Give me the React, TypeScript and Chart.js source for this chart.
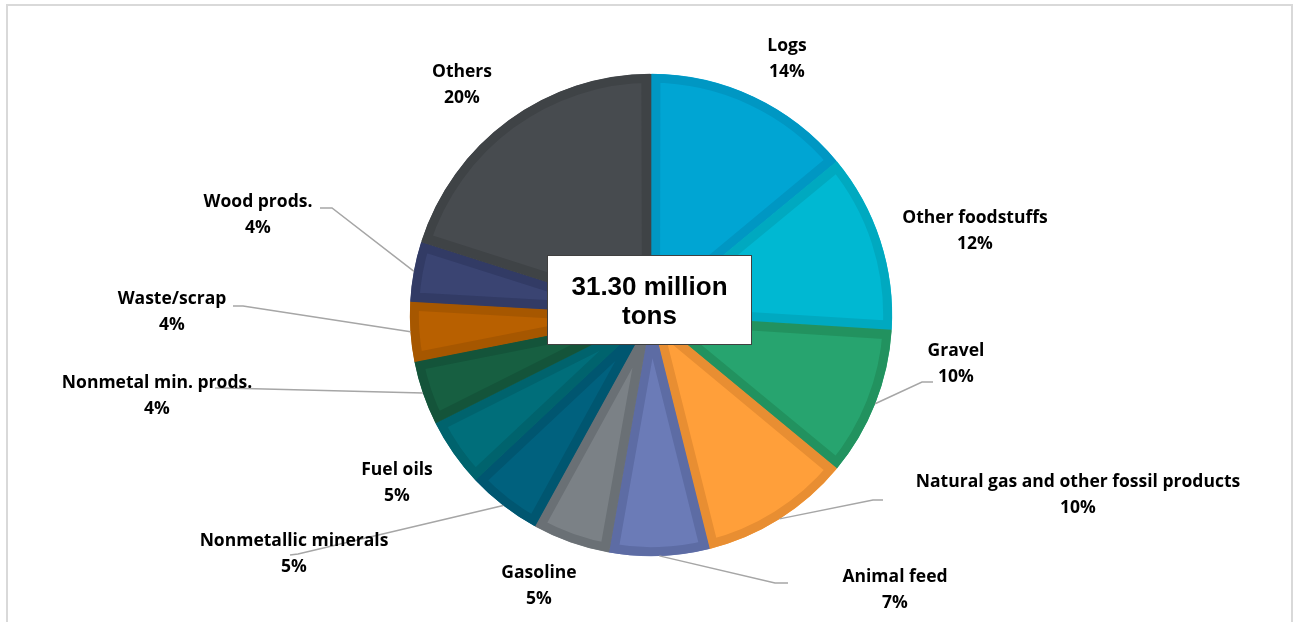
import React, { useEffect, useRef } from "react";
import { Chart, registerables } from "chart.js";

Chart.register(...registerables);

// ---------- data ----------
const categories = [
  "Logs",
  "Other foodstuffs",
  "Gravel",
  "Natural gas and other fossil products",
  "Animal feed",
  "Gasoline",
  "Nonmetallic minerals",
  "Fuel oils",
  "Nonmetal min. prods.",
  "Waste/scrap",
  "Wood prods.",
  "Others",
];
const sharesPct = [14.0, 12.0, 10.0, 10.1, 6.7, 5.2, 5.0, 4.6, 4.3, 4.0, 4.0, 20.1];
const totalLines = ["31.30 million", "tons"];

// ---------- styles ----------
const fillColors = [
  "#00A5D3", "#00B8D2", "#27A46F", "#FF9F3A", "#6B7BB7", "#7B8186",
  "#00617E", "#006E7A", "#175F41", "#B86000", "#3A4472", "#474B4F",
];
const borderColors = [
  "#0097C3", "#00A9C0", "#22925F", "#E88E32", "#5D6CA4", "#6A7075",
  "#005670", "#00636D", "#14543A", "#A65700", "#323B65", "#3F4346",
];

// label layout: centre of first text line (x, y)
const labelPos: [number, number][] = [
  [787, 46],
  [975, 218],
  [956, 351],
  [1078, 482],
  [895, 577],
  [539, 573],
  [294, 541],
  [397, 470],
  [157, 383],
  [172, 299],
  [258, 202],
  [462, 72],
];
// leader line: elbow point and end point (null = no leader)
const leaders: ([number, number][] | null)[] = [
  null,
  null,
  [[922, 382], [933, 382]],
  [[873, 500], [883, 500]],
  [[775, 583], [788, 583]],
  null,
  [[298, 554], [290, 555]],
  null,
  [[225, 388], [215, 388]],
  [[243, 306], [233, 306]],
  [[332, 208], [320, 208]],
  null,
];

const LABEL_FONT = "bold 17.5px 'Open Sans', 'Noto Sans', sans-serif";
const LINE_H = 26;

const overlayPlugin = {
  id: "overlay",
  afterDatasetsDraw(chart: any) {
    const ctx: CanvasRenderingContext2D = chart.ctx;
    const meta = chart.getDatasetMeta(0);
    ctx.save();
    // leader lines
    ctx.strokeStyle = "#A6A6A6";
    ctx.lineWidth = 1.5;
    meta.data.forEach((arc: any, i: number) => {
      const pts = leaders[i];
      if (!pts) return;
      const p = arc.getProps(["x", "y", "startAngle", "endAngle", "outerRadius"], true);
      const mid = (p.startAngle + p.endAngle) / 2;
      const sx = p.x + Math.cos(mid) * p.outerRadius;
      const sy = p.y + Math.sin(mid) * p.outerRadius;
      ctx.beginPath();
      ctx.moveTo(sx, sy);
      pts.forEach(([x, y]) => ctx.lineTo(x, y));
      ctx.stroke();
    });
    // labels
    ctx.fillStyle = "#000000";
    ctx.font = LABEL_FONT;
    ctx.textAlign = "center";
    ctx.textBaseline = "middle";
    categories.forEach((name, i) => {
      const [x, y] = labelPos[i];
      ctx.fillText(name, x, y);
      ctx.fillText(Math.round(sharesPct[i]) + "%", x, y + LINE_H);
    });
    // centre box
    const cy = meta.data[0].y;
    const bx = 547.5, by = 255.5, bw = 204, bh = 89;
    ctx.fillStyle = "#FFFFFF";
    ctx.fillRect(bx, by, bw, bh);
    ctx.strokeStyle = "#404040";
    ctx.lineWidth = 1;
    ctx.strokeRect(bx, by, bw, bh);
    ctx.fillStyle = "#000000";
    ctx.font = "bold 26px 'Liberation Sans', Arial, sans-serif";
    ctx.fillText(totalLines[0], bx + bw / 2, cy - 27);
    ctx.fillText(totalLines[1], bx + bw / 2, cy + 2);
    ctx.restore();
  },
};

export default function App() {
  const canvasRef = useRef<HTMLCanvasElement | null>(null);

  useEffect(() => {
    if (!canvasRef.current) return;
    const chart = new Chart(canvasRef.current, {
      type: "pie",
      data: {
        labels: categories,
        datasets: [
          {
            data: sharesPct,
            backgroundColor: fillColors,
            borderColor: borderColors,
            borderWidth: 9,
            borderAlign: "inner",
            borderJoinStyle: "miter",
            spacing: 1,
          } as any,
        ],
      },
      options: {
        responsive: false,
        animation: false,
        radius: 241,
        layout: { padding: { left: 300, right: 292, top: 60, bottom: 52 } },
        plugins: {
          legend: { display: false },
          tooltip: { enabled: false },
        },
        events: [],
      } as any,
      plugins: [overlayPlugin],
    });
    return () => chart.destroy();
  }, []);

  return (
    <div
      style={{
        position: "fixed",
        left: 0,
        top: 0,
        width: 1294,
        height: 622,
        overflow: "hidden",
        background: "#FFFFFF",
      }}
    >
      <div
        style={{
          position: "absolute",
          left: 6,
          top: 4,
          width: 1283,
          height: 700,
          border: "2px solid #D9D9D9",
        }}
      />
      <canvas
        ref={canvasRef}
        width={1294}
        height={622}
        style={{ position: "absolute", left: 0, top: 0, width: 1294, height: 622 }}
      />
    </div>
  );
}
